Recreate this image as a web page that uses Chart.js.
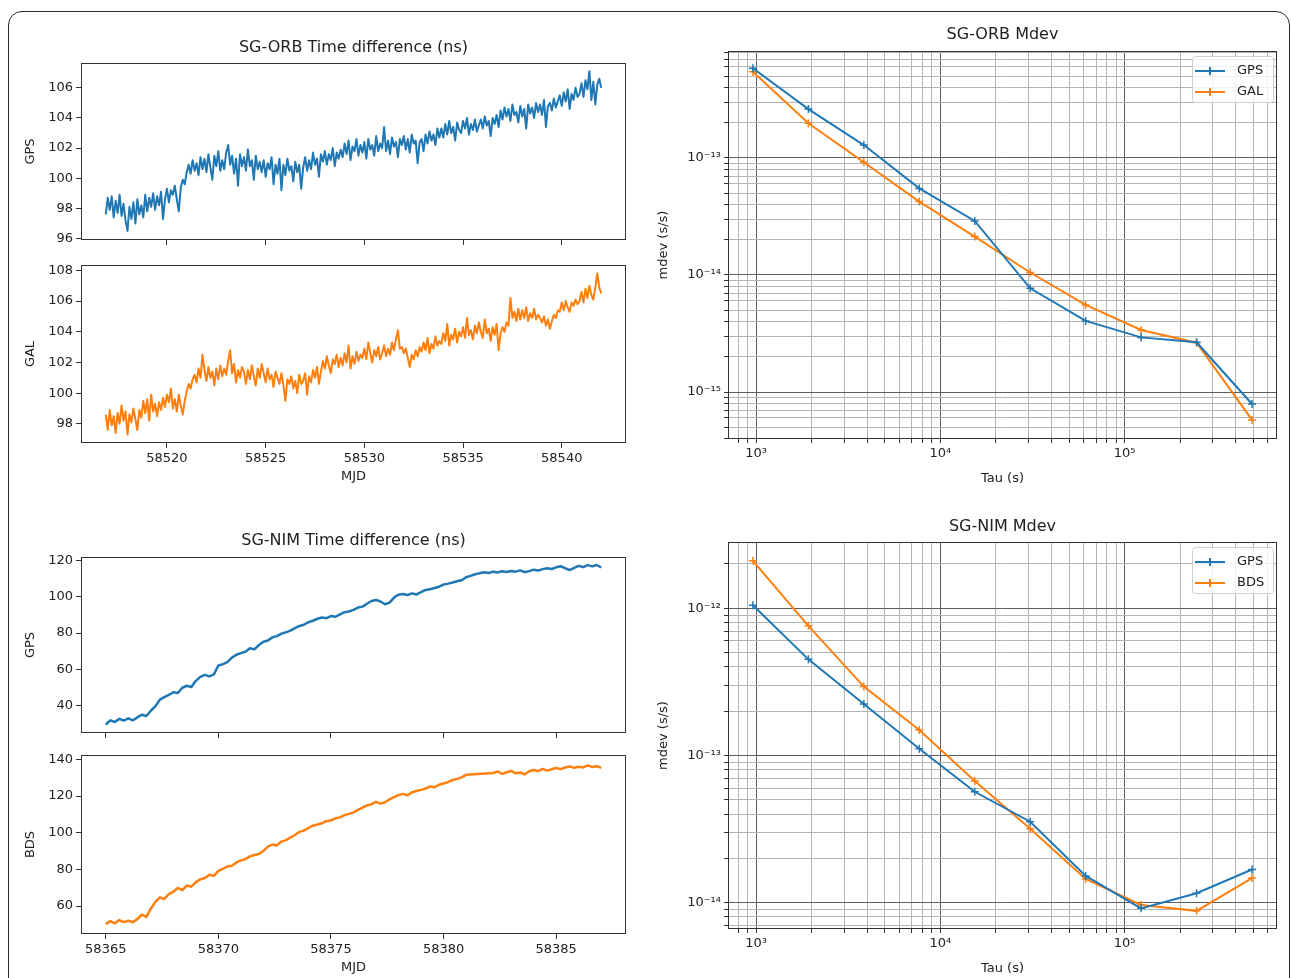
<!DOCTYPE html>
<html lang="en">
<head>
<meta charset="UTF-8">
<title>SG-ORB / SG-NIM time difference and Mdev</title>
<script src="https://cdn.jsdelivr.net/npm/chart.js"></script>
<style>
  html, body { margin: 0; padding: 0; background: #fff; }
  body { width: 1292px; height: 978px; position: relative; overflow: hidden; }
  #frame { position: absolute; left: 8px; top: 11px; width: 1282px; height: 990px;
           border: 1.5px solid #2a2a2a; border-radius: 14px; box-sizing: border-box; }
  canvas { position: absolute; }
</style>
</head>
<body>
<div id="frame"></div>
<canvas id="orbGpsChart"></canvas>
<canvas id="orbGalChart"></canvas>
<canvas id="nimGpsChart"></canvas>
<canvas id="nimBdsChart"></canvas>
<canvas id="orbMdevChart"></canvas>
<canvas id="nimMdevChart"></canvas>
<script>
// ---- data ----
// SG-ORB, MJD 58516.9 .. 58542.0 every 0.1 day
const orbMjdStart = 58516.9, orbMjdStep = 0.1;
const orbGps = [
  97.6, 98.7, 97.9, 98.8, 97.4, 98.5, 97.7, 98.9, 97.5, 98.3,
  97.2, 96.5, 98.1, 97.3, 98.4, 97.0, 98.6, 97.6, 98.2, 97.4,
  98.9, 97.8, 98.7, 98.1, 99.0, 97.9, 98.8, 98.2, 99.1, 97.3,
  98.6, 99.3, 98.4, 99.2, 98.9, 99.5, 98.6, 97.8, 99.4, 99.9,
  99.6, 100.4, 100.9, 100.3, 101.2, 100.5, 101.0, 100.2, 101.4, 100.6,
  101.3, 100.4, 101.6, 100.7, 99.9, 101.5, 100.8, 101.8, 100.5, 101.2,
  100.6, 101.7, 102.2, 100.9, 101.5, 100.3, 101.3, 99.5, 101.6, 100.8,
  101.4, 100.5, 101.9, 100.8, 101.2, 99.9, 101.5, 100.6, 101.1, 100.4,
  101.2, 100.1, 101.0, 100.6, 101.4, 99.6, 100.9, 100.3, 101.3, 99.2,
  100.9, 100.2, 101.3, 100.5, 100.8, 99.8, 101.1, 100.4, 100.9, 99.3,
  100.7, 101.4, 100.5, 101.2, 100.6, 101.7, 100.9, 101.3, 100.1, 101.6,
  101.1, 101.8, 100.9, 101.6, 101.2, 102.0, 100.8, 101.7, 101.3, 101.9,
  101.4, 102.3, 101.6, 102.5, 101.2, 102.1, 101.8, 102.6, 101.5, 102.2,
  101.7, 102.4, 101.3, 102.6, 101.9, 102.2, 101.5, 102.8, 101.8, 102.3,
  102.0, 103.4, 101.8, 102.5, 101.6, 102.7, 102.1, 102.4, 101.4, 102.6,
  102.2, 102.8, 101.9, 102.6, 101.7, 102.9, 102.3, 102.5, 101.0, 102.4,
  102.6, 101.8, 102.9, 102.3, 103.1, 102.5, 102.9, 102.2, 103.3, 102.7,
  103.3, 102.7, 103.6, 102.9, 103.8, 103.0, 103.4, 102.5, 103.7, 103.2,
  103.0, 103.8, 103.3, 104.0, 102.9, 103.6, 103.2, 103.9, 103.1, 103.5,
  103.9, 103.3, 104.1, 103.5, 103.8, 102.8, 104.0, 103.6, 104.2, 103.4,
  104.5, 103.9, 104.7, 104.1, 104.6, 103.8, 104.9, 104.2, 104.4, 103.7,
  104.8, 104.1, 104.6, 103.3, 104.9, 104.3, 104.7, 104.0, 105.0, 104.4,
  104.9, 104.2, 105.2, 103.4, 104.8, 105.0, 104.5, 105.3, 104.7, 105.1,
  105.5, 104.8, 105.7, 105.1, 105.9, 104.6, 105.6, 105.2, 106.0, 105.4,
  105.6, 106.3, 105.4, 106.5, 105.9, 107.1, 105.2, 106.4, 104.9, 106.2,
  106.6, 106.0
];
const orbGal = [
  98.6, 97.6, 98.9, 97.9, 98.5, 97.4, 98.7, 98.0, 99.2, 98.2,
  98.8, 97.3, 98.6, 98.1, 99.0, 98.3, 97.6, 98.9, 98.4, 99.5,
  98.7, 99.6, 98.2, 99.9, 98.8, 99.3, 98.5, 99.4, 98.9, 99.7,
  99.1, 99.9, 99.4, 100.3, 99.0, 99.6, 98.8, 99.9, 99.2, 98.6,
  99.5, 100.1, 100.6, 100.3, 100.9, 101.2, 100.7, 101.6, 101.0, 102.5,
  101.5, 100.8, 101.7, 101.0, 101.4, 100.5, 101.6, 100.9, 101.8, 101.1,
  101.6, 101.2, 102.1, 102.8, 101.3, 101.9, 100.7, 101.5, 101.0, 101.7,
  101.4, 100.6, 101.5, 100.9, 101.8, 101.1, 100.5, 101.6, 101.0, 101.9,
  101.3, 100.7, 101.6, 100.9, 101.2, 100.4, 101.4, 101.0, 100.6, 101.3,
  100.5, 99.5, 100.9, 100.6, 101.1, 100.3, 100.8, 100.0, 101.2, 100.6,
  100.8, 101.3, 99.9, 101.1, 100.7, 101.5, 101.0, 101.7, 100.6, 101.4,
  102.1, 101.6, 102.4, 101.8, 101.3, 102.2, 101.9, 102.5, 101.7, 102.3,
  101.8, 102.6, 102.0, 103.1, 101.6, 102.4, 101.9, 102.7, 102.1, 102.5,
  102.3, 102.9, 102.2, 103.3, 102.6, 102.0, 102.8, 102.4, 103.0, 102.2,
  102.6, 103.1, 102.4, 102.9, 102.5, 103.3, 102.8, 103.5, 104.1, 102.9,
  103.0, 102.6, 102.9, 102.3, 101.7, 102.5, 102.2, 102.8, 102.4, 103.0,
  102.7, 103.3, 102.8, 103.6, 102.6, 103.2, 102.9, 103.7, 103.1, 103.4,
  103.2, 103.9, 103.4, 104.5, 103.1, 103.8, 103.5, 104.2, 103.3, 104.0,
  103.7, 104.3, 103.6, 104.9, 103.8, 104.1, 103.5, 104.4, 103.9, 104.6,
  104.0, 103.6, 104.8, 103.9, 104.2, 103.4, 104.3, 103.8, 104.5, 102.8,
  103.9, 104.3, 104.0, 104.6, 104.4, 106.2, 104.9, 105.3, 104.7, 105.5,
  104.8, 105.4, 104.9, 105.6, 104.7, 105.2, 104.9, 105.5, 104.8, 105.1,
  104.9, 104.6, 105.0, 104.4, 104.8, 104.2, 104.7, 105.1, 104.9, 105.4,
  105.3, 105.9, 105.4, 106.0, 105.6, 105.3, 105.9, 105.7, 106.1, 105.8,
  106.0, 106.6, 105.9, 106.8, 106.2, 107.0, 106.4, 106.1, 106.9, 107.8,
  106.9, 106.5
];

// SG-NIM, MJD 58365.0 .. 58387.0 every 0.2 day (BDS has a data gap)
const nimMjdStart = 58365.0, nimMjdStep = 0.2;
const nimGps = [
  29.5, 31.8, 30.9, 32.6, 31.7, 32.9, 31.8, 33.4, 34.9, 34.2,
  37.1, 39.5, 43.2, 44.6, 45.8, 47.3, 46.9, 49.8, 50.9, 50.2,
  53.6, 55.8, 56.9, 56.1, 57.2, 62.1, 62.8, 63.9, 66.4, 68.0,
  68.9, 69.7, 71.6, 71.0, 73.4, 75.2, 75.9, 77.6, 78.3, 79.7,
  80.4, 81.3, 82.7, 83.9, 84.6, 86.0, 86.8, 87.9, 88.6, 88.2,
  89.4, 89.0, 90.3, 91.5, 91.9, 92.8, 94.1, 94.6, 96.2, 97.7,
  98.3, 97.4, 95.9, 96.8, 99.6, 101.2, 101.6, 101.0, 101.9, 101.3,
  102.6, 103.8, 104.2, 104.9, 105.6, 106.8, 107.3, 107.9, 108.6, 109.2,
  110.8, 111.6, 112.5, 113.0, 113.6, 113.2, 113.9, 113.5, 114.1, 113.7,
  114.3, 113.9, 114.6, 113.6, 114.2, 115.0, 114.5, 115.3, 115.8, 115.4,
  116.3, 116.9, 115.8, 114.8, 116.0, 117.1, 116.4, 117.5, 116.8, 117.6,
  116.2
];
const nimBds = [
  50.2, 51.8, 50.6, 52.4, 51.3, 52.0, 51.2, 52.9, 55.4, 54.1,
  58.6, 62.3, 64.8, 63.9, 66.5, 67.8, 69.9, 68.7, 71.2, 70.6,
  73.1, 74.6, 75.3, 77.1, 76.5, 79.2, 80.3, 81.6, 82.0, 83.8,
  84.9, 85.6, 87.1, 87.9, 88.4, 90.1, 92.4, 93.6, 93.1, 95.2,
  96.0, 97.4, 98.8, 100.5, 101.2, 102.6, 103.9, 104.5, 105.2, 106.3,
  106.8, 107.9, 108.4, 109.6, 110.3, 111.1, 112.5, 113.7, 114.9, 115.6,
  116.8, 115.9, 116.6, 118.2, 119.4, 120.5, 121.2, 120.4, 122.1, 122.8,
  123.4, 124.1, 125.3, 124.8, 126.2, 126.9, 127.6, 128.8, 129.4, 130.2,
  131.6, null, null, null, null, null, 132.6, 133.4, 132.1, 133.0,
  133.7, 132.4, 132.9, 131.8, 133.5, 134.2, 133.6, 134.8, 133.9, 134.6,
  135.3, 134.7, 135.6, 136.2, 135.4, 136.0, 135.6, 136.7, 135.9, 136.3,
  135.4
];

// Mdev
const tau = [960, 1920, 3840, 7680, 15360, 30720, 61440, 122880, 245760, 491520];
const orbMdevGps = [5.85e-13, 2.62e-13, 1.29e-13, 5.5e-14, 2.9e-14, 7.7e-15, 4.05e-15, 2.93e-15, 2.66e-15, 7.9e-16];
const orbMdevGal = [5.47e-13, 1.98e-13, 9.2e-14, 4.24e-14, 2.13e-14, 1.05e-14, 5.55e-15, 3.39e-15, 2.64e-15, 5.77e-16];
const nimMdevGps = [1.05e-12, 4.5e-13, 2.24e-13, 1.11e-13, 5.67e-14, 3.55e-14, 1.52e-14, 9.15e-15, 1.16e-14, 1.68e-14];
const nimMdevBds = [2.1e-12, 7.6e-13, 2.94e-13, 1.49e-13, 6.7e-14, 3.18e-14, 1.45e-14, 9.65e-15, 8.8e-15, 1.47e-14];

// tick labels
const orbMjdTicks = [58520, 58525, 58530, 58535, 58540];
const nimMjdTicks = [58365, 58370, 58375, 58380, 58385];
const orbGpsTicks = [96, 98, 100, 102, 104, 106];
const orbGalTicks = [98, 100, 102, 104, 106, 108];
const nimGpsTicks = [40, 60, 80, 100, 120];
const nimBdsTicks = [60, 80, 100, 120, 140];

const BLUE = '#1f77b4', ORANGE = '#ff7f0e';
const FONT = 'DejaVu Sans';
Chart.defaults.font.family = FONT;
Chart.defaults.color = '#222';

const AXW = 80, AXH = 50, PADT = 30, PADR = 10;

function toPoints(vals, start, step) {
  return vals.map((v, i) => ({ x: +(start + i * step).toFixed(2), y: v }));
}

function sup(n) {
  const map = { '-': '\u207B', '0': '\u2070', '1': '\u00B9', '2': '\u00B2', '3': '\u00B3',
    '4': '\u2074', '5': '\u2075', '6': '\u2076', '7': '\u2077', '8': '\u2078', '9': '\u2079' };
  return String(n).split('').map(c => map[c]).join('');
}
function isDecade(v) {
  const l = Math.log10(v);
  return Math.abs(l - Math.round(l)) < 1e-6;
}
function logTicks(min, max) {
  const out = [];
  for (let e = Math.floor(Math.log10(min)); e <= Math.ceil(Math.log10(max)); e++) {
    for (let m = 1; m <= 9; m++) {
      const v = m * Math.pow(10, e);
      if (v >= min * 0.9999 && v <= max * 1.0001) out.push({ value: v });
    }
  }
  return out;
}

// text, box and legend drawn around the plot area
function panelPlugin(p) {
  return {
    id: 'panel',
    afterDatasetsDraw(chart) {
      const a = chart.chartArea, ctx = chart.ctx;
      ctx.save();
      ctx.strokeStyle = '#333';
      ctx.lineWidth = 1;
      ctx.strokeRect(a.left + 0.5, a.top + 0.5, a.right - a.left - 1, a.bottom - a.top - 1);
      ctx.fillStyle = '#222';
      ctx.textAlign = 'center';
      ctx.textBaseline = 'middle';
      if (p.title) {
        ctx.font = '16px "' + FONT + '"';
        ctx.fillText(p.title, (a.left + a.right) / 2, a.top - p.titleDy);
      }
      ctx.font = '13px "' + FONT + '"';
      if (p.xTitle) ctx.fillText(p.xTitle, (a.left + a.right) / 2, a.bottom + p.xTitleDy);
      if (p.yTitle) {
        ctx.translate(a.left - p.yTitleDx, (a.top + a.bottom) / 2);
        ctx.rotate(-Math.PI / 2);
        ctx.fillText(p.yTitle, 0, 0);
        ctx.setTransform(1, 0, 0, 1, 0, 0);
      }
      if (p.legend) {
        const bx = a.right - 85, by = a.top + 5, bw = 81, bh = 46;
        ctx.beginPath();
        ctx.roundRect(bx + 0.5, by + 0.5, bw, bh, 3);
        ctx.fillStyle = 'rgba(255,255,255,0.8)';
        ctx.fill();
        ctx.strokeStyle = '#d0d0d0';
        ctx.stroke();
        p.legend.forEach((item, i) => {
          const y = a.top + 20 + i * 21;
          const x0 = a.right - 82;
          ctx.strokeStyle = item.color;
          ctx.lineWidth = 2;
          ctx.beginPath();
          ctx.moveTo(x0, y); ctx.lineTo(x0 + 30, y);
          ctx.moveTo(x0 + 15, y - 4); ctx.lineTo(x0 + 15, y + 4);
          ctx.stroke();
          ctx.fillStyle = '#222';
          ctx.textAlign = 'left';
          ctx.fillText(item.label, x0 + 42, y);
        });
      }
      ctx.restore();
    }
  };
}

function place(canvas, box) {
  const w = box.r - box.l + AXW + PADR;
  const h = box.b - box.t + PADT + AXH;
  canvas.width = w; canvas.height = h;
  canvas.style.width = w + 'px'; canvas.style.height = h + 'px';
  canvas.style.left = (box.l - AXW) + 'px';
  canvas.style.top = (box.t - PADT) + 'px';
}

function timeChart(id, box, points, color, width, xr, yr, xTicks, yTicks, showX, text) {
  const canvas = document.getElementById(id);
  place(canvas, box);
  return new Chart(canvas, {
    type: 'line',
    data: { datasets: [{ data: points, borderColor: color, borderWidth: width,
      borderJoinStyle: 'round', pointRadius: 0, tension: 0, spanGaps: true }] },
    options: {
      responsive: false, animation: false, devicePixelRatio: 1,
      layout: { padding: { top: PADT, right: PADR, left: 0, bottom: 0 } },
      plugins: { legend: { display: false }, tooltip: { enabled: false } },
      scales: {
        x: {
          type: 'linear', min: xr[0], max: xr[1],
          afterBuildTicks: s => { s.ticks = xTicks.map(v => ({ value: v })); },
          afterFit: s => { s.height = AXH; },
          grid: { drawOnChartArea: false, tickLength: 5, color: '#333' },
          border: { display: false },
          ticks: { autoSkip: false, maxRotation: 0, padding: 3, font: { size: 13 },
            callback: v => showX ? String(v) : '' }
        },
        y: {
          type: 'linear', min: yr[0], max: yr[1],
          afterBuildTicks: s => { s.ticks = yTicks.map(v => ({ value: v })); },
          afterFit: s => { s.width = AXW; },
          grid: { drawOnChartArea: false, tickLength: 5, color: '#333' },
          border: { display: false },
          ticks: { autoSkip: false, padding: 3, font: { size: 13 } }
        }
      }
    },
    plugins: [panelPlugin(text)]
  });
}

function mdevChart(id, box, series, yr, text) {
  const canvas = document.getElementById(id);
  place(canvas, box);
  const gridColor = c => (c.tick && isDecade(c.tick.value)) ? '#5e5e5e' : '#b4b4b4';
  return new Chart(canvas, {
    type: 'line',
    data: { datasets: series.map(s => ({
      label: s.label,
      data: tau.map((t, i) => ({ x: t, y: s.values[i] })),
      borderColor: s.color, backgroundColor: s.color, borderWidth: 2,
      pointStyle: 'cross', pointRadius: 4, pointBorderWidth: 1.5, tension: 0
    })) },
    options: {
      responsive: false, animation: false, devicePixelRatio: 1,
      layout: { padding: { top: PADT, right: PADR, left: 0, bottom: 0 } },
      plugins: { legend: { display: false }, tooltip: { enabled: false } },
      scales: {
        x: {
          type: 'logarithmic', min: 703, max: 671600,
          afterBuildTicks: s => { s.ticks = logTicks(s.min, s.max); },
          afterFit: s => { s.height = AXH; },
          grid: { color: gridColor, tickColor: '#333', tickLength: 4 },
          border: { display: false },
          ticks: { autoSkip: false, maxRotation: 0, padding: 3, font: { size: 13 },
            callback: v => isDecade(v) ? '10' + sup(Math.round(Math.log10(v))) : '' }
        },
        y: {
          type: 'logarithmic', min: yr[0], max: yr[1],
          afterBuildTicks: s => { s.ticks = logTicks(s.min, s.max); },
          afterFit: s => { s.width = AXW; },
          grid: { color: gridColor, tickColor: '#333', tickLength: 4 },
          border: { display: false },
          ticks: { autoSkip: false, padding: 3, font: { size: 13 },
            callback: v => isDecade(v) ? '10' + sup(Math.round(Math.log10(v))) : '' }
        }
      }
    },
    plugins: [panelPlugin(text)]
  });
}

timeChart('orbGpsChart', { l: 81, t: 63, r: 626, b: 240 },
  toPoints(orbGps, orbMjdStart, orbMjdStep), BLUE, 2,
  [58515.645, 58543.255], [95.9, 107.65], orbMjdTicks, orbGpsTicks, false,
  { title: 'SG-ORB Time difference (ns)', titleDy: 15, yTitle: 'GPS', yTitleDx: 50 });

timeChart('orbGalChart', { l: 81, t: 265, r: 626, b: 443 },
  toPoints(orbGal, orbMjdStart, orbMjdStep), ORANGE, 2,
  [58515.645, 58543.255], [96.75, 108.35], orbMjdTicks, orbGalTicks, true,
  { xTitle: 'MJD', xTitleDy: 34, yTitle: 'GAL', yTitleDx: 50 });

timeChart('nimGpsChart', { l: 81, t: 557, r: 626, b: 733 },
  toPoints(nimGps, nimMjdStart, nimMjdStep), BLUE, 2.5,
  [58363.9, 58388.1], [24.8, 122.0], nimMjdTicks, nimGpsTicks, false,
  { title: 'SG-NIM Time difference (ns)', titleDy: 16, yTitle: 'GPS', yTitleDx: 50 });

timeChart('nimBdsChart', { l: 81, t: 755, r: 626, b: 934 },
  toPoints(nimBds, nimMjdStart, nimMjdStep), ORANGE, 2.5,
  [58363.9, 58388.1], [44.8, 142.4], nimMjdTicks, nimBdsTicks, true,
  { xTitle: 'MJD', xTitleDy: 34, yTitle: 'BDS', yTitleDx: 50 });

mdevChart('orbMdevChart', { l: 728, t: 51, r: 1277, b: 439 },
  [{ label: 'GPS', values: orbMdevGps, color: BLUE }, { label: 'GAL', values: orbMdevGal, color: ORANGE }],
  [Math.pow(10, -15.4017), Math.pow(10, -12.0855)],
  { title: 'SG-ORB Mdev', titleDy: 16, xTitle: 'Tau (s)', xTitleDy: 40, yTitle: 'mdev (s/s)', yTitleDx: 64,
    legend: [{ label: 'GPS', color: BLUE }, { label: 'GAL', color: ORANGE }] });

mdevChart('nimMdevChart', { l: 728, t: 542, r: 1277, b: 929 },
  [{ label: 'GPS', values: nimMdevGps, color: BLUE }, { label: 'BDS', values: nimMdevBds, color: ORANGE }],
  [Math.pow(10, -14.1787), Math.pow(10, -11.5496)],
  { title: 'SG-NIM Mdev', titleDy: 15, xTitle: 'Tau (s)', xTitleDy: 40, yTitle: 'mdev (s/s)', yTitleDx: 64,
    legend: [{ label: 'GPS', color: BLUE }, { label: 'BDS', color: ORANGE }] });
</script>
</body>
</html>
